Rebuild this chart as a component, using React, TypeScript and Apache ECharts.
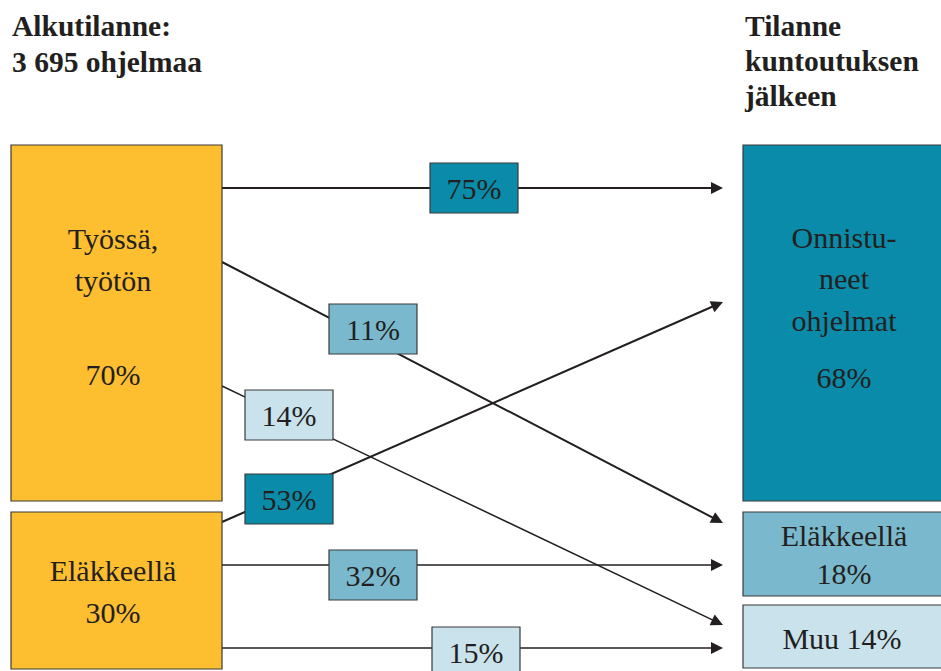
import React, { useEffect, useRef } from 'react';
import * as echarts from 'echarts';

// ---- data ----
const sourceLines = [['Työssä,', 'työtön'], ['Eläkkeellä']];
const sourceShares = [70, 30];
const targetLines = [['Onnistu-', 'neet', 'ohjelmat'], ['Eläkkeellä'], ['Muu']];
const targetShares = [68, 18, 14];
const flowSource = [0, 0, 0, 1, 1, 1];
const flowTarget = [0, 1, 2, 0, 1, 2];
const flowShares = [75, 11, 14, 53, 32, 15];
const titleLeft = ['Alkutilanne:', '3 695 ohjelmaa'];
const titleRight = ['Tilanne', 'kuntoutuksen', 'jälkeen'];

// ---- layout ----
const sourceBoxes = [
  { x: 11, y: 145, w: 211, h: 356, lines: [248, 290], pct: 384 },
  { x: 11, y: 512, w: 211, h: 157, lines: [580], pct: 622 },
];
const targetBoxes = [
  { x: 743, y: 145, w: 204, h: 356, lines: [247, 288, 330], pct: 387, inline: false },
  { x: 743, y: 512, w: 204, h: 84, lines: [545], pct: 583, inline: false },
  { x: 743, y: 605, w: 204, h: 63, lines: [648], pct: 648, inline: true },
];
const flowLayout = [
  { sy: 188, ey: 188, lx: 430, ly: 163, lw: 2 },
  { sy: 262, ey: 523, lx: 329, ly: 304, lw: 2 },
  { sy: 386, ey: 625, lx: 245, ly: 390, lw: 1.5 },
  { sy: 522, ey: 302, lx: 245, ly: 474, lw: 2 },
  { sy: 565, ey: 565, lx: 329, ly: 550, lw: 1.5 },
  { sy: 648, ey: 648, lx: 432, ly: 627, lw: 1.5 },
];
const targetColors = ['#0A8BA9', '#7AB9CD', '#C9E2EC'];
const sourceColor = '#FDBE30';
const lineX0 = 222;
const lineX1 = 723;
const labelW = 88;
const labelH = 50;
const FONT = 'Liberation Serif';
const txtColor = '#231F20';
const border = '#3a3a3a';
const BODY = 30;
const TITLE = 29.5;

function txt(text: string, x: number, baseline: number, size: number, bold = false, align = 'center') {
  return {
    type: 'text',
    z: 10,
    style: {
      text,
      x,
      y: baseline - size * 0.33,
      fill: txtColor,
      fontFamily: FONT,
      fontSize: size,
      fontWeight: bold ? 'bold' : 'normal',
      align,
      verticalAlign: 'middle',
    },
  };
}

export default function App() {
  const ref = useRef<HTMLDivElement>(null);
  useEffect(() => {
    document.body.style.margin = '0';
    const chart = echarts.init(ref.current!, null, { renderer: 'svg' });
    const els: any[] = [];
    // titles
    titleLeft.forEach((t, i) => els.push(txt(t, 12, 36 + i * 36, TITLE, true, 'left')));
    titleRight.forEach((t, i) => els.push(txt(t, 745, 36 + i * 35, TITLE, true, 'left')));

    // flow lines
    flowShares.forEach((v, i) => {
      const f = flowLayout[i];
      const L = 12, W = 6;
      const ang = Math.atan2(f.ey - f.sy, lineX1 - lineX0);
      els.push({
        type: 'line',
        z: 1,
        shape: {
          x1: lineX0, y1: f.sy,
          x2: lineX1 - (L - 2) * Math.cos(ang), y2: f.ey - (L - 2) * Math.sin(ang),
        },
        style: { stroke: '#231F20', lineWidth: f.lw },
      });
      const bx = lineX1 - L * Math.cos(ang), by = f.ey - L * Math.sin(ang);
      const px = -Math.sin(ang), py = Math.cos(ang);
      els.push({
        type: 'polygon',
        z: 2,
        shape: { points: [[lineX1, f.ey], [bx + px * W, by + py * W], [bx - px * W, by - py * W]] },
        style: { fill: '#231F20' },
      });
      els.push({
        type: 'rect',
        z: 5,
        shape: { x: f.lx, y: f.ly, width: labelW, height: labelH },
        style: { fill: targetColors[flowTarget[i]], stroke: border, lineWidth: 1.2 },
      });
      els.push(txt(`${v}%`, f.lx + labelW / 2, f.ly + labelH / 2 + 10.5, BODY));
    });

    // source boxes
    sourceBoxes.forEach((b, i) => {
      els.push({
        type: 'rect', z: 5,
        shape: { x: b.x, y: b.y, width: b.w, height: b.h },
        style: { fill: sourceColor, stroke: border, lineWidth: 1.2 },
      });
      const cx = 113;
      sourceLines[i].forEach((t, j) => els.push(txt(t, cx, b.lines[j], BODY)));
      els.push(txt(`${sourceShares[i]}%`, cx, b.pct, BODY));
    });

    // target boxes
    targetBoxes.forEach((b, i) => {
      els.push({
        type: 'rect', z: 5,
        shape: { x: b.x, y: b.y, width: b.w, height: b.h },
        style: { fill: targetColors[i], stroke: border, lineWidth: 1.2 },
      });
      const cx = 844;
      if (b.inline) {
        els.push(txt(`${targetLines[i][0]} ${targetShares[i]}%`, cx - 2, b.pct, BODY));
      } else {
        targetLines[i].forEach((t, j) => els.push(txt(t, cx, b.lines[j], BODY)));
        els.push(txt(`${targetShares[i]}%`, cx, b.pct, BODY));
      }
    });

    chart.setOption({
      animation: false,
      backgroundColor: '#ffffff',
      graphic: { elements: els },
    });
    return () => chart.dispose();
  }, []);
  return <div ref={ref} style={{ width: 941, height: 671 }} />;
}
